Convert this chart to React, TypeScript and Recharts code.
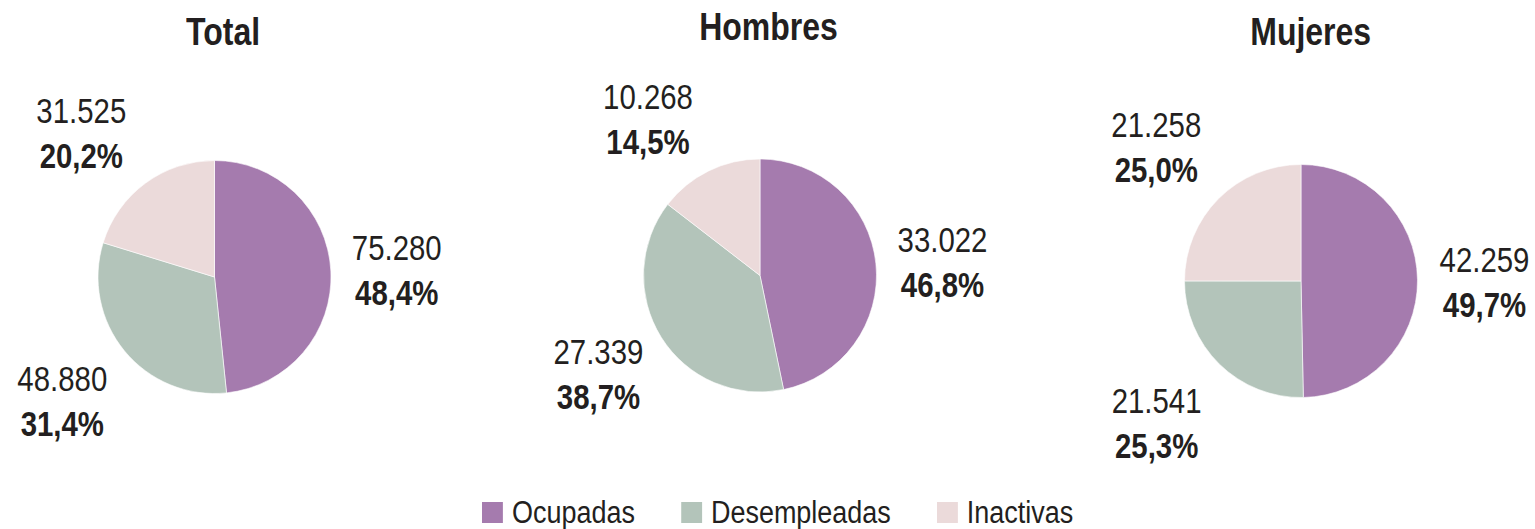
import { Legend, Pie, PieChart, Cell } from 'recharts';

const categories = ['Ocupadas', 'Desempleadas', 'Inactivas'];
const colors = ['#A57BAE', '#B3C4BA', '#EBDADA'];
const panelTitles = ['Total', 'Hombres', 'Mujeres'];
const totalValues = [75280, 48880, 31525];
const hombresValues = [33022, 27339, 10268];
const mujeresValues = [42259, 21541, 21258];

// no narrow face installed, so Liberation Sans is squeezed horizontally
const FONT = '"Liberation Sans", Arial, sans-serif';
const INK = '#231F20';

// labels sit on a ring around each pie; nudges follow the hand placement of the original
const panels = [
  { title: panelTitles[0], values: totalValues, cx: 214.5, cy: 277, tx: 223, top: 12, nudge: [[-8, 3], [-5, 3], [-20, 9]] },
  { title: panelTitles[1], values: hombresValues, cx: 760, cy: 275.5, tx: 769, top: 7, nudge: [[-7, 6], [0, -2], [-28, 14]] },
  { title: panelTitles[2], values: mujeresValues, cx: 1301, cy: 281, tx: 1311, top: 12, nudge: [[-7, 3], [-11, 6], [-10, 1]] },
];

const toRows = (values: number[]) => categories.map((name, i) => ({ name, value: values[i] }));

const fmtNum = (v: number) => v.toString().replace(/\B(?=(\d{3})+(?!\d))/g, '.');
const fmtPct = (p: number) => (p * 100).toFixed(1).replace('.', ',') + '%';

const RAD = Math.PI / 180;

const makeLabel = (nudge: number[][]) => (props: any) => {
  const { cx, cy, midAngle, outerRadius, value, percent, index } = props;
  const r = outerRadius + 74;
  const [dx, dy] = nudge[index] || [0, 0];
  const x = cx + r * Math.cos(-midAngle * RAD) + dx;
  const y = cy + r * Math.sin(-midAngle * RAD) + dy;
  return (
    <g>
      <text transform={`translate(${x},${y - 10}) scale(0.84,1)`} textAnchor="middle" fontFamily={FONT} fontSize={35} fill={INK}>
        {fmtNum(value)}
      </text>
      <text transform={`translate(${x},${y + 35}) scale(0.84,1)`} textAnchor="middle" fontFamily={FONT} fontSize={35} fontWeight={700} fill={INK}>
        {fmtPct(percent)}
      </text>
    </g>
  );
};

const LS = 0.87;

function LegendBox() {
  return (
    <div
      style={{
        display: 'flex',
        alignItems: 'center',
        fontFamily: FONT,
        fontSize: 31,
        lineHeight: '31px',
        color: INK,
        transform: `scaleX(${LS})`,
        transformOrigin: 'left center',
        whiteSpace: 'nowrap',
      }}
    >
      {categories.map((c, i) => (
        <div key={c} style={{ display: 'flex', alignItems: 'center', marginRight: 46 / LS }}>
          <span style={{ width: 21 / LS, height: 21, background: colors[i], display: 'inline-block', marginRight: 9 / LS }} />
          <span>{c}</span>
        </div>
      ))}
    </div>
  );
}

export default function App() {
  return (
    <div style={{ position: 'relative', width: 1535, height: 529, background: '#fff', overflow: 'hidden' }}>
      <style>{`body{margin:0;overflow:hidden;background:#fff}`}</style>
      {panels.map((p) => (
        <div
          key={p.title}
          style={{
            position: 'absolute',
            left: p.tx - 150,
            top: p.top,
            width: 300,
            lineHeight: '39px',
            textAlign: 'center',
            fontFamily: FONT,
            fontWeight: 700,
            fontSize: 39,
            color: INK,
            zIndex: 2,
          }}
        >
          <span style={{ display: 'inline-block', transform: 'scaleX(0.82)' }}>{p.title}</span>
        </div>
      ))}
      <PieChart width={1535} height={529} margin={{ top: 0, right: 0, bottom: 0, left: 0 }} style={{ position: 'absolute', left: 0, top: 0 }}>
        {panels.map((p) => (
          <Pie
            key={p.title}
            data={toRows(p.values)}
            dataKey="value"
            nameKey="name"
            cx={p.cx}
            cy={p.cy}
            outerRadius={116.5}
            startAngle={90}
            endAngle={-270}
            stroke="#ffffff"
            strokeWidth={0.6}
            label={makeLabel(p.nudge)}
            labelLine={false}
            isAnimationActive={false}
          >
            {categories.map((c, i) => (
              <Cell key={c} fill={colors[i]} />
            ))}
          </Pie>
        ))}
        <Legend content={LegendBox} wrapperStyle={{ position: 'absolute', left: 482, top: 497, width: 700, height: 31 }} />
      </PieChart>
    </div>
  );
}
